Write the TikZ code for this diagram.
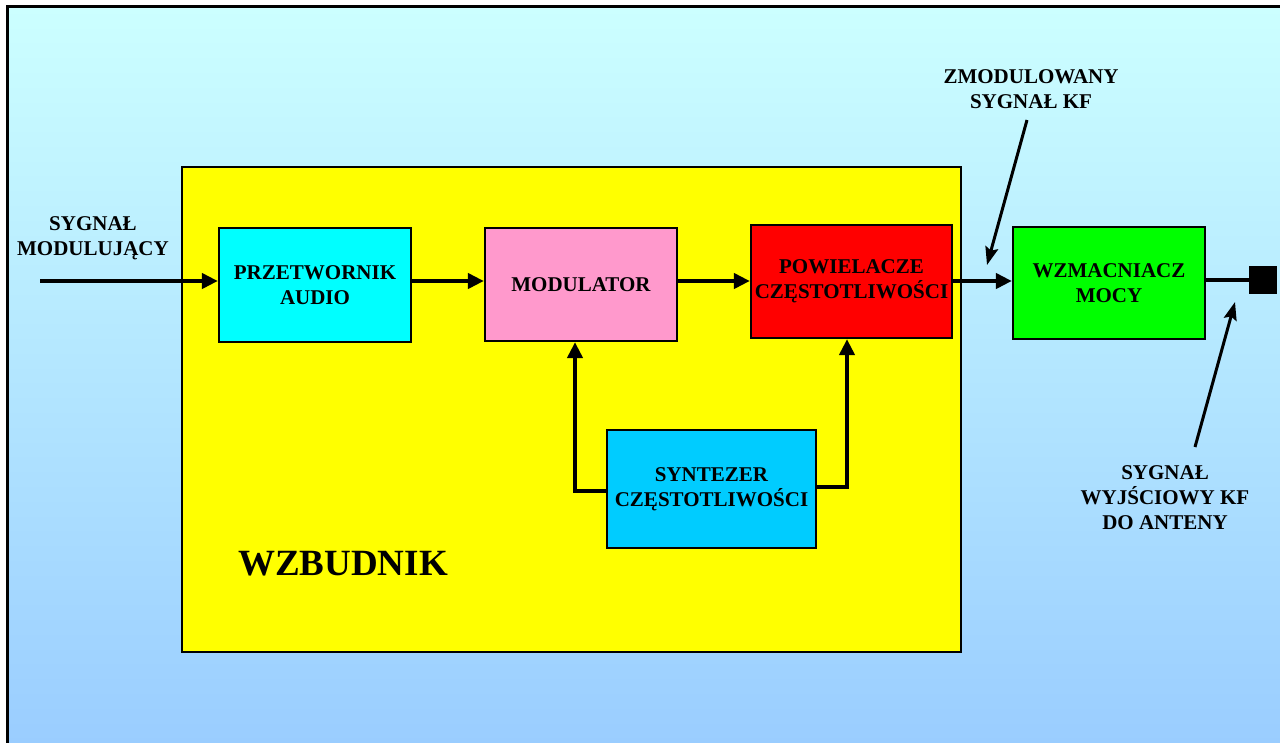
\documentclass[tikz,border=0pt]{standalone}
\usepackage{fontspec}
\setmainfont{Liberation Serif}
\usetikzlibrary{arrows.meta}
\definecolor{bgtop}{HTML}{CCFFFF}
\definecolor{bgbot}{HTML}{99CCFF}
\definecolor{exc}{HTML}{FFFF00}
\definecolor{audio}{HTML}{00FFFF}
\definecolor{modc}{HTML}{FF99CC}
\definecolor{powc}{HTML}{FF0000}
\definecolor{wzc}{HTML}{00FF00}
\definecolor{sync}{HTML}{00CCFF}
\tikzset{
  blk/.style={draw=black, line width=2.2pt, inner sep=0pt, align=center,
    font=\fontsize{21}{25}\selectfont\bfseries},
  lbl/.style={align=center, inner sep=0pt, font=\fontsize{21}{25}\selectfont\bfseries},
  arr/.style={line width=4.6pt, -{Triangle[length=16pt,width=15pt]}},
  ln/.style={line width=4.6pt},
  note/.style={line width=3pt, -{Stealth[length=18pt,width=13pt,inset=3pt]}}
}
\begin{document}
\begin{tikzpicture}[x=1pt,y=-1pt]
\useasboundingbox (0,0) rectangle (1280,742);
\clip (0,0) rectangle (1280,742);
\fill[white] (0,0) rectangle (1280,742);
\shade[top color=bgtop, bottom color=bgbot] (7,6) rectangle (1300,760);
\draw[line width=3pt] (7,760) -- (7,6) -- (1300,6);
% excitor block
\node[draw=black, line width=2.4pt, fill=exc, minimum width=779pt, minimum height=485pt, inner sep=0pt] (exc) at (571.5,409.5) {};
\node[lbl, font=\fontsize{37}{40}\selectfont\bfseries] (wzb) at (343,564) {WZBUDNIK};
% blocks
\node[blk, fill=audio, minimum width=192pt, minimum height=114pt] (pa) at (315,285) {PRZETWORNIK\\AUDIO};
\node[blk, fill=modc, minimum width=192pt, minimum height=113pt] (mod) at (581,284.5) {MODULATOR};
\node[blk, fill=powc, minimum width=201pt, minimum height=113pt] (pw) at (851.5,281.5) {POWIELACZE\\CZĘSTOTLIWOŚCI};
\node[blk, fill=wzc, minimum width=192pt, minimum height=112pt] (wz) at (1109,283) {WZMACNIACZ\\MOCY};
\node[blk, fill=sync, minimum width=209pt, minimum height=118pt] (syn) at (711.5,489) {SYNTEZER\\CZĘSTOTLIWOŚCI};
\node[fill=black, minimum size=28pt, inner sep=0pt] (sq) at (1263,280) {};
% labels
\node[lbl] (lin) at (93,238) {SYGNAŁ\\MODULUJĄCY};
\node[lbl] (lzm) at (1031,89) {ZMODULOWANY\\SYGNAŁ KF};
\node[lbl] (lwy) at (1165,498) {SYGNAŁ\\WYJŚCIOWY KF\\DO ANTENY};
% coordinates
\coordinate (in) at (40,281);
\coordinate (ml) at (575,491);
\coordinate (mr) at (847,487);
\coordinate (zs) at (1027,120);
\coordinate (zt) at (987,265);
\coordinate (ws) at (1195,447);
\coordinate (wt) at (1235,302);
% connectors
\draw[arr] (in) -- (in -| pa.west);
\draw[arr] (pa.east |- in) -- (mod.west |- in);
\draw[arr] (mod.east |- in) -- (pw.west |- in);
\draw[arr] (pw.east |- in) -- (wz.west |- in);
\draw[ln] (wz.east |- sq) -- (sq.west);
\draw[arr] (syn.west |- ml) -| (mod.south -| ml);
\draw[arr] (syn.east |- mr) -| (pw.south -| mr);
\draw[note] (zs) -- (zt);
\draw[note] (ws) -- (wt);
\end{tikzpicture}
\end{document}
